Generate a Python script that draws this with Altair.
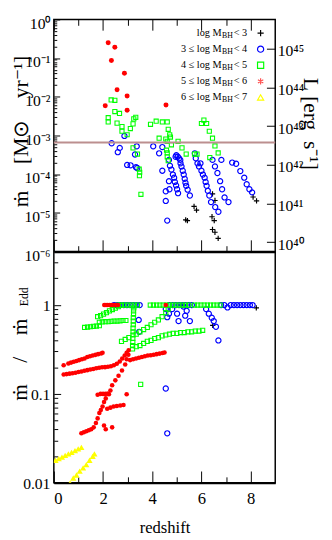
import altair as alt
import pandas as pd

SERIF = "Liberation Serif, serif"
W, H, HT = 227, 475, 238   # plot width, total plot height, top-panel height
NB = "\u00a0"              # non-breaking space (SVG collapses ordinary runs of spaces)

# ---------------- top panel: accretion rate (log10 Msun/yr) ----------------
top_black_z = [5.36, 5.43, 5.70, 5.80, 6.45, 6.55, 6.43, 6.52, 6.45, 6.55, 6.68, 8.10, 8.24]
top_black_logm = [-5.18, -5.20, -4.83, -4.93, -4.51, -4.68, -5.10, -5.20, -5.43, -5.50, -5.66, -4.59, -4.69]

top_blue_z = [2.35, 2.87, 2.68, 2.60, 2.98, 3.12, 3.30, 3.37, 3.34, 3.39,
              4.04, 4.28, 4.41, 4.41, 4.55, 4.55, 4.61, 4.68, 4.70, 4.95,
              4.68, 4.72, 4.78, 4.84, 4.89, 4.92, 4.97, 5.01, 5.05,
              4.98, 5.04, 5.09, 5.14, 5.15, 5.19, 5.24, 5.28, 5.32, 5.35, 5.38, 5.44, 5.53,
              5.73, 5.77, 5.84, 5.90, 5.96, 6.00, 6.06, 6.13, 6.17, 6.21, 6.26, 6.32, 6.39, 6.56, 6.69,
              6.45, 6.55, 6.65, 6.76, 6.84, 6.94, 7.10, 6.81,
              7.25, 7.41, 7.58, 7.74, 7.84, 7.95, 8.06]
top_blue_logm = [-3.20, -3.01, -3.32, -3.43, -3.76, -3.77, -3.49, -3.28, -3.82, -3.84,
                 -3.28, -3.46, -3.30, -3.91, -4.44, -4.69, -5.20, -4.18, -4.39, -3.55,
                 -3.63, -3.78, -3.88, -4.01, -4.09, -4.20, -4.29, -4.39, -4.49,
                 -3.51, -3.55, -3.59, -3.63, -3.72, -3.80, -3.91, -4.01, -4.12, -4.22, -4.30, -4.40, -4.55,
                 -3.46, -3.59, -3.72, -3.80, -3.72, -3.91, -4.01, -4.09, -4.20, -4.30, -4.43, -4.55, -4.72, -4.85, -4.97,
                 -3.63, -3.80, -3.97, -4.18, -4.39, -4.60, -4.72, -3.63,
                 -3.70, -3.73, -3.92, -4.09, -4.26, -4.39, -4.47]

top_green_z = [2.21, 2.21, 2.33, 2.48, 2.48, 2.67, 2.57, 2.77, 2.77, 2.98, 3.11, 3.22, 3.25, 3.33, 3.22, 3.40, 3.47, 3.49, 3.48, 3.54,
               3.93, 4.16, 4.41, 4.61, 4.65, 4.71, 4.74, 4.28, 4.55, 4.61, 4.78, 4.58, 4.61, 4.61, 4.65, 5.05, 5.21, 5.38, 5.72, 5.82,
               6.00, 6.10, 6.21, 6.32, 6.45, 6.55, 6.68, 6.34]
top_green_logm = [-2.54, -2.65, -2.08, -2.09, -2.38, -2.43, -2.68, -2.77, -2.89, -2.98, -2.82, -2.70, -2.57, -2.53, -3.32, -3.48, -3.87, -3.95, -4.04, -4.52,
                  -2.71, -2.63, -2.65, -2.65, -2.84, -2.98, -3.04, -3.07, -3.09, -3.15, -3.24, -3.38, -3.45, -3.55, -3.65, -3.15, -3.32, -3.48, -3.48, -3.48,
                  -2.69, -2.60, -2.69, -2.89, -3.07, -3.27, -3.45, -3.57]

top_red_z = [2.21, 2.48, 2.34, 2.87, 2.57, 2.98, 2.09, 2.98, 4.56]
top_red_logm = [-0.60, -0.72, -1.06, -1.39, -1.82, -1.98, -2.23, -2.35, -2.21]

hline_mdot = [6.6e-4]
L_OFFSET = 45.76   # log10 L = log10 mdot + offset

# ---------------- bottom panel: mdot / mdot_Edd ----------------
bot_black_z = [5.20, 5.28, 6.46, 8.23]
bot_black_r = [1.0, 1.0, 0.59, 0.93]

bot_blue_z = [2.45, 2.58, 2.71, 2.84, 2.97, 3.10, 3.23, 3.36, 3.49,
              4.70, 4.83, 4.96, 5.09, 5.22, 5.35, 5.48, 5.61,
              6.80, 6.93, 7.06, 7.19, 7.32, 7.45, 7.58, 7.71, 7.84, 7.97, 8.08,
              3.45, 3.47, 4.55, 4.61, 4.68, 4.81, 5.01, 5.07, 5.27, 5.34, 5.40, 5.53,
              6.19, 6.30, 6.42, 6.50, 6.59, 6.69, 4.55, 4.61]
bot_blue_r = [1.0, 1.0, 1.0, 1.0, 1.0, 1.0, 1.0, 1.0, 1.0,
              1.0, 1.0, 1.0, 1.0, 1.0, 1.0, 1.0, 1.0,
              1.0, 1.0, 0.94, 1.0, 1.0, 1.0, 1.0, 1.0, 1.0, 1.0, 1.0,
              0.68, 0.50, 0.90, 0.73, 0.80, 0.90, 0.80, 0.66, 0.96, 0.76, 0.86, 0.66,
              0.90, 0.80, 0.72, 0.66, 0.57, 0.40, 0.115, 0.036]

bot_green_z = [2.62, 2.75, 2.88, 3.01, 3.14, 3.27, 3.40, 3.92, 4.05, 4.18, 4.31, 4.44, 4.57, 4.70, 4.83, 4.96,
               5.09, 5.22, 5.35, 5.48, 5.72, 5.85, 5.98, 6.11, 6.24, 6.37, 6.50, 6.63, 6.76,
               1.25, 1.37, 1.49, 1.61, 1.73, 1.85,
               1.85, 1.97, 2.09, 2.21, 2.33, 2.45, 2.57, 2.69, 2.81, 2.93,
               1.78, 1.90, 2.02, 2.14, 2.26, 2.38, 2.50, 2.62, 2.74,
               2.75, 2.90, 3.05, 3.35, 3.50, 3.65, 3.80, 3.95, 4.10, 4.25, 4.40, 4.55, 4.65,
               3.20, 3.35, 3.50, 3.65, 3.80, 3.95, 4.10, 4.25, 4.40, 4.55, 4.70, 4.85, 5.00, 5.15, 5.30, 5.45, 5.60, 5.75, 5.90, 6.05,
               3.20, 3.21, 3.21, 3.22, 3.22, 3.22, 3.23, 3.23, 3.23, 3.24, 3.24, 3.25,
               3.53]
bot_green_r = [1.0] * 29 + \
              [0.56, 0.565, 0.57, 0.575, 0.58, 0.585,
               0.64, 0.645, 0.65, 0.65, 0.655, 0.66, 0.66, 0.665, 0.67, 0.67,
               0.74, 0.76, 0.79, 0.82, 0.86, 0.89, 0.92, 0.96, 0.99,
               0.39, 0.41, 0.43, 0.47, 0.50, 0.53, 0.56, 0.60, 0.64, 0.68, 0.74, 0.82, 0.90,
               0.32, 0.34, 0.35, 0.37, 0.39, 0.40, 0.42, 0.43, 0.45, 0.46, 0.47, 0.48, 0.48, 0.49, 0.49, 0.50, 0.50, 0.51, 0.51, 0.52,
               0.35, 0.38, 0.42, 0.46, 0.50, 0.55, 0.60, 0.66, 0.72, 0.79, 0.86, 0.93,
               0.128]

bot_red_z = [2.05, 2.12, 2.19, 2.26, 2.33, 2.40, 2.47, 2.54, 2.61, 4.55,
             0.40, 0.59, 0.70, 0.81, 0.92, 1.03, 1.14, 1.25, 1.36, 1.47, 1.58, 1.69, 1.80, 1.92, 1.98,
             0.40, 0.52, 0.64, 0.76, 0.88, 1.00, 1.12, 1.24, 1.36, 1.48, 1.60, 1.72, 1.84, 1.96, 2.08, 2.20, 2.32, 2.44, 2.56, 2.68, 2.78, 2.88, 2.96, 3.04,
             3.10, 3.22, 3.34, 3.46, 3.58, 3.70, 3.82, 3.94, 4.06, 4.18, 4.30, 4.42, 4.50,
             1.12, 1.22, 1.32, 1.42, 1.52, 1.62, 1.71, 1.78, 1.85, 1.91, 1.98, 2.04, 2.11, 2.24, 2.30, 2.37, 2.50, 2.63, 2.77, 2.90, 2.96, 3.03,
             2.17, 2.30, 2.43, 2.56, 2.70, 2.83,
             1.78, 1.90, 2.00, 2.10, 2.20,
             2.04, 2.11, 2.37, 2.96]
bot_red_r = [1.0] * 10 + \
            [0.21, 0.22, 0.225, 0.23, 0.235, 0.24, 0.245, 0.25, 0.26, 0.265, 0.27, 0.275, 0.28, 0.285, 0.29,
             0.165, 0.167, 0.169, 0.171, 0.173, 0.176, 0.179, 0.182, 0.185, 0.188, 0.191, 0.194, 0.197, 0.199, 0.200, 0.202, 0.205, 0.210, 0.218, 0.232, 0.25, 0.27, 0.29, 0.31,
             0.24, 0.245, 0.25, 0.255, 0.26, 0.265, 0.27, 0.272, 0.276, 0.28, 0.284, 0.288, 0.292,
             0.036, 0.037, 0.038, 0.039, 0.040, 0.042, 0.047, 0.053, 0.061, 0.066, 0.072, 0.081, 0.089, 0.099, 0.109, 0.125, 0.142, 0.160, 0.183, 0.214, 0.245, 0.276,
             0.068, 0.070, 0.072, 0.073, 0.074, 0.075,
             0.098, 0.100, 0.100, 0.100, 0.101,
             0.044, 0.040, 0.042, 0.099]

bot_yellow_z = [0.07, 0.20, 0.33, 0.46, 0.59, 0.72, 0.86, 0.99, 1.12,
                0.66, 0.79, 0.92, 1.05, 1.19, 1.32, 1.45, 1.58, 1.65]
bot_yellow_r = [0.0179, 0.0187, 0.0194, 0.0203, 0.0211, 0.022, 0.023, 0.024, 0.025,
                0.0099, 0.0113, 0.0122, 0.0135, 0.0147, 0.016, 0.0179, 0.0198, 0.0211]

# legend
legend_prefix = ["log M", "3 \u2264 log M", "4 \u2264 log M", "5 \u2264 log M", "6 \u2264 log M"]
legend_suffix = ["< 3", "< 4", "< 5", "< 6", "< 7"]
legend_cls = ["c0", "c1", "c2", "c3", "c4"]

x_ticks_major = [0, 2, 4, 6, 8]
x_ticks_minor = [1, 3, 5, 7]
top_decades = [1e-6, 1e-5, 1e-4, 1e-3, 1e-2, 1e-1, 1]
top_minor = [m * d for d in top_decades[:-1] for m in range(2, 10)]
bot_major = [0.01, 0.1, 1]
bot_minor = [0.02, 0.03, 0.04, 0.05, 0.06, 0.07, 0.08, 0.09,
             0.2, 0.3, 0.4, 0.5, 0.6, 0.7, 0.8, 0.9, 2, 3]
L_decades = [1e40, 1e41, 1e42, 1e43, 1e44, 1e45]

# ---------------- scales ----------------
xs = alt.Scale(domain=[0, 9], nice=False, zero=False)
def top_s():
    return alt.Scale(type="log", domain=[1e-6, 1], range=[HT, 0], nice=False)
def bot_s():
    return alt.Scale(type="log", domain=[0.01, 4], range=[H, HT], nice=False)
def L_s():
    return alt.Scale(type="log", domain=[10 ** (-6 + L_OFFSET), 10 ** L_OFFSET], range=[HT, 0], nice=False)

CROSS = "M-1,0L1,0M0,-1L0,1"
ASTER = "M0,-1L0,1M-0.87,-0.5L0.87,0.5M-0.87,0.5L0.87,-0.5"


def top_df(z, logm):
    return pd.DataFrame({"z": z, "v": [10 ** v for v in logm]})


def bot_df(z, r):
    return pd.DataFrame({"z": z, "v": r})


def pts(df, scale, shape, color, filled, size, sw=1.1):
    return alt.Chart(df).mark_point(shape=shape, filled=filled, color=color, size=size,
                                    strokeWidth=sw, opacity=1, clip=True).encode(
        x=alt.X("z:Q", scale=xs, axis=None),
        y=alt.Y("v:Q", scale=scale, axis=None))


def carrier(scale, yval, yaxis=None, xaxis=None):
    df = pd.DataFrame({"z": [4.5], "v": [yval]})
    return alt.Chart(df).mark_point(opacity=0).encode(
        x=alt.X("z:Q", scale=xs, axis=xaxis),
        y=alt.Y("v:Q", scale=scale, axis=yaxis))


def tick_axis(orient, offset, values, size, domain=False, dw=1.5):
    return alt.Axis(orient=orient, offset=offset, values=values, tickSize=size, ticks=True,
                    labels=False, domain=domain, domainWidth=dw, domainColor="black",
                    tickColor="black", tickWidth=1, grid=False, title=None)


layers = []
# --- top panel data ---
layers.append(pts(top_df(top_black_z, top_black_logm), top_s(), CROSS, "black", False, 30, 1.2))
layers.append(pts(top_df(top_blue_z, top_blue_logm), top_s(), "circle", "#0000ff", False, 28, 1.2))
layers.append(pts(top_df(top_green_z, top_green_logm), top_s(), "square", "#00ff00", False, 18, 1.1))
layers.append(pts(top_df(top_red_z, top_red_logm), top_s(), "circle", "#ff0000", True, 26))
layers.append(alt.Chart(pd.DataFrame({"v": hline_mdot})).mark_rule(color="#bc8f8f", strokeWidth=2).encode(
    y=alt.Y("v:Q", scale=top_s(), axis=None)))

# --- bottom panel data ---
layers.append(pts(bot_df(bot_black_z, bot_black_r), bot_s(), CROSS, "black", False, 30, 1.2))
layers.append(pts(bot_df(bot_blue_z, bot_blue_r), bot_s(), "circle", "#0000ff", False, 28, 1.2))
layers.append(pts(bot_df(bot_green_z, bot_green_r), bot_s(), "square", "#00ff00", False, 18, 1.1))
layers.append(pts(bot_df(bot_red_z, bot_red_r), bot_s(), "circle", "#ff0000", True, 22))
layers.append(pts(bot_df(bot_yellow_z, bot_yellow_r), bot_s(), "triangle-up", "#ffff00", True, 40))

# --- axes ---
top_label_expr = "'10' + ['\u207b\u2076','\u207b\u2075','\u207b\u2074','\u207b\u00b3','\u207b\u00b2','\u207b\u00b9','\u2070'][round(log(datum.value)/LN10)+6]"
L_label_expr = "'10' + ['\u2074\u2070','\u2074\u00b9','\u2074\u00b2','\u2074\u00b3','\u2074\u2074','\u2074\u2075'][round(log(datum.value)/LN10)-40]"

layers.append(carrier(top_s(), 1e-3, yaxis=alt.Axis(
    orient="left", values=top_decades, labelExpr=top_label_expr, ticks=False, tickSize=0,
    domain=False, labelPadding=4, labelOffset=4, labelFont=SERIF, labelFontSize=16,
    labelColor="black", grid=False, title=None)))
layers.append(carrier(top_s(), 1e-3, yaxis=tick_axis("right", -W, top_decades, 6)))
layers.append(carrier(top_s(), 1e-3, yaxis=tick_axis("right", -W, top_minor, 3)))
layers.append(carrier(L_s(), 1e42, yaxis=alt.Axis(
    orient="right", values=L_decades, labelExpr=L_label_expr, ticks=False, tickSize=0,
    domain=False, labelPadding=2, labelOffset=2, labelFont=SERIF, labelFontSize=16,
    labelColor="black", grid=False, title=None)))
layers.append(carrier(L_s(), 1e42, yaxis=tick_axis("left", -W, L_decades, 9)))

layers.append(carrier(bot_s(), 0.1, yaxis=alt.Axis(
    orient="left", values=bot_major, format="~g", ticks=False, tickSize=0,
    domain=False, labelPadding=4, labelOffset=1, labelFont=SERIF, labelFontSize=16,
    labelColor="black", grid=False, title=None)))
layers.append(carrier(bot_s(), 0.1, yaxis=tick_axis("right", -W, bot_major, 7)))
layers.append(carrier(bot_s(), 0.1, yaxis=tick_axis("right", -W, bot_minor, 4)))

layers.append(carrier(bot_s(), 0.1, xaxis=alt.Axis(
    orient="bottom", values=x_ticks_major, ticks=False, tickSize=0, domain=True,
    domainWidth=2.2, domainColor="black", labelPadding=8, labelFont=SERIF, labelFontSize=17,
    labelColor="black", grid=False, title="redshift", titleFont=SERIF, titleFontSize=17,
    titleFontWeight="normal", titleColor="black", titlePadding=14)))
layers.append(carrier(bot_s(), 0.1, xaxis=tick_axis("top", -H, x_ticks_major, 12)))
layers.append(carrier(bot_s(), 0.1, xaxis=tick_axis("top", -H, x_ticks_minor, 6)))
layers.append(carrier(bot_s(), 0.1, xaxis=tick_axis("top", -HT, x_ticks_major, 12, True, 2.6)))
layers.append(carrier(bot_s(), 0.1, xaxis=tick_axis("top", -HT, x_ticks_minor, 6)))
layers.append(carrier(bot_s(), 0.1, xaxis=tick_axis("bottom", -H, x_ticks_major, 11)))
layers.append(carrier(bot_s(), 0.1, xaxis=tick_axis("bottom", -H, x_ticks_minor, 6)))

# --- legend ---
leg = pd.DataFrame({"row": list(range(5)), "prefix": legend_prefix, "suffix": legend_suffix, "cls": legend_cls})
row_scale = alt.Scale(domain=[0, 4], range=[14, 80])
row_y = alt.Y("row:Q", scale=row_scale, axis=None)
layers.append(alt.Chart(leg).mark_text(align="right", baseline="middle", font=SERIF, fontSize=10.5, color="black").encode(
    x=alt.value(172), y=row_y, text="prefix:N"))
layers.append(alt.Chart(leg).mark_text(align="left", baseline="middle", font=SERIF, fontSize=8, dy=3, color="black").encode(
    x=alt.value(172.5), y=row_y, text=alt.value("BH")))
layers.append(alt.Chart(leg).mark_text(align="left", baseline="middle", font=SERIF, fontSize=10.5, color="black").encode(
    x=alt.value(184.5), y=row_y, text="suffix:N"))
layers.append(alt.Chart(leg).mark_point(filled=False, size=40, strokeWidth=1.2, opacity=1).encode(
    x=alt.value(212), y=row_y,
    shape=alt.Shape("cls:N", scale=alt.Scale(domain=legend_cls, range=[CROSS, "circle", "square", ASTER, "triangle-up"]), legend=None),
    color=alt.Color("cls:N", scale=alt.Scale(domain=legend_cls, range=["black", "#0000ff", "#00ff00", "#ff5050", "#ffff00"]), legend=None)))

# --- axis titles (rotated text) ---
def title_text(t, x, y, angle, size, align="center"):
    return alt.Chart(pd.DataFrame({"t": [t]})).mark_text(
        angle=angle, align=align, baseline="middle", font=SERIF, fontSize=size, color="black").encode(
        x=alt.value(x), y=alt.value(y), text="t:N")

layers.append(title_text("\u1e41" + NB * 5 + "[M\u2299" + NB * 4 + "yr\u207b\u00b9]", -34, 115, 270, 22))
layers.append(title_text("\u1e41" + NB * 4 + "/" + NB * 4 + "\u1e41", -35, 391, 270, 22, "left"))
layers.append(title_text("Edd", -30, 294, 270, 12, "left"))
layers.append(title_text("L" + NB + "[erg" + NB * 2 + "s\u207b\u00b9]", 264, 107, 90, 22))

chart = alt.layer(*layers).resolve_scale(y="independent").resolve_axis(
    x="independent", y="independent").properties(
    width=W, height=H,
    autosize=alt.AutoSizeParams(type="none"),
    padding={"left": 47, "top": 5, "right": 50, "bottom": 52},
).configure_view(stroke="black", strokeWidth=1.5).configure_axis(
    grid=False, labelFont=SERIF, titleFont=SERIF, titleFontWeight="normal",
    labelColor="black", titleColor="black"
).configure_text(font=SERIF)

chart.save("out.html", embed_options={"renderer": "svg", "actions": False})
